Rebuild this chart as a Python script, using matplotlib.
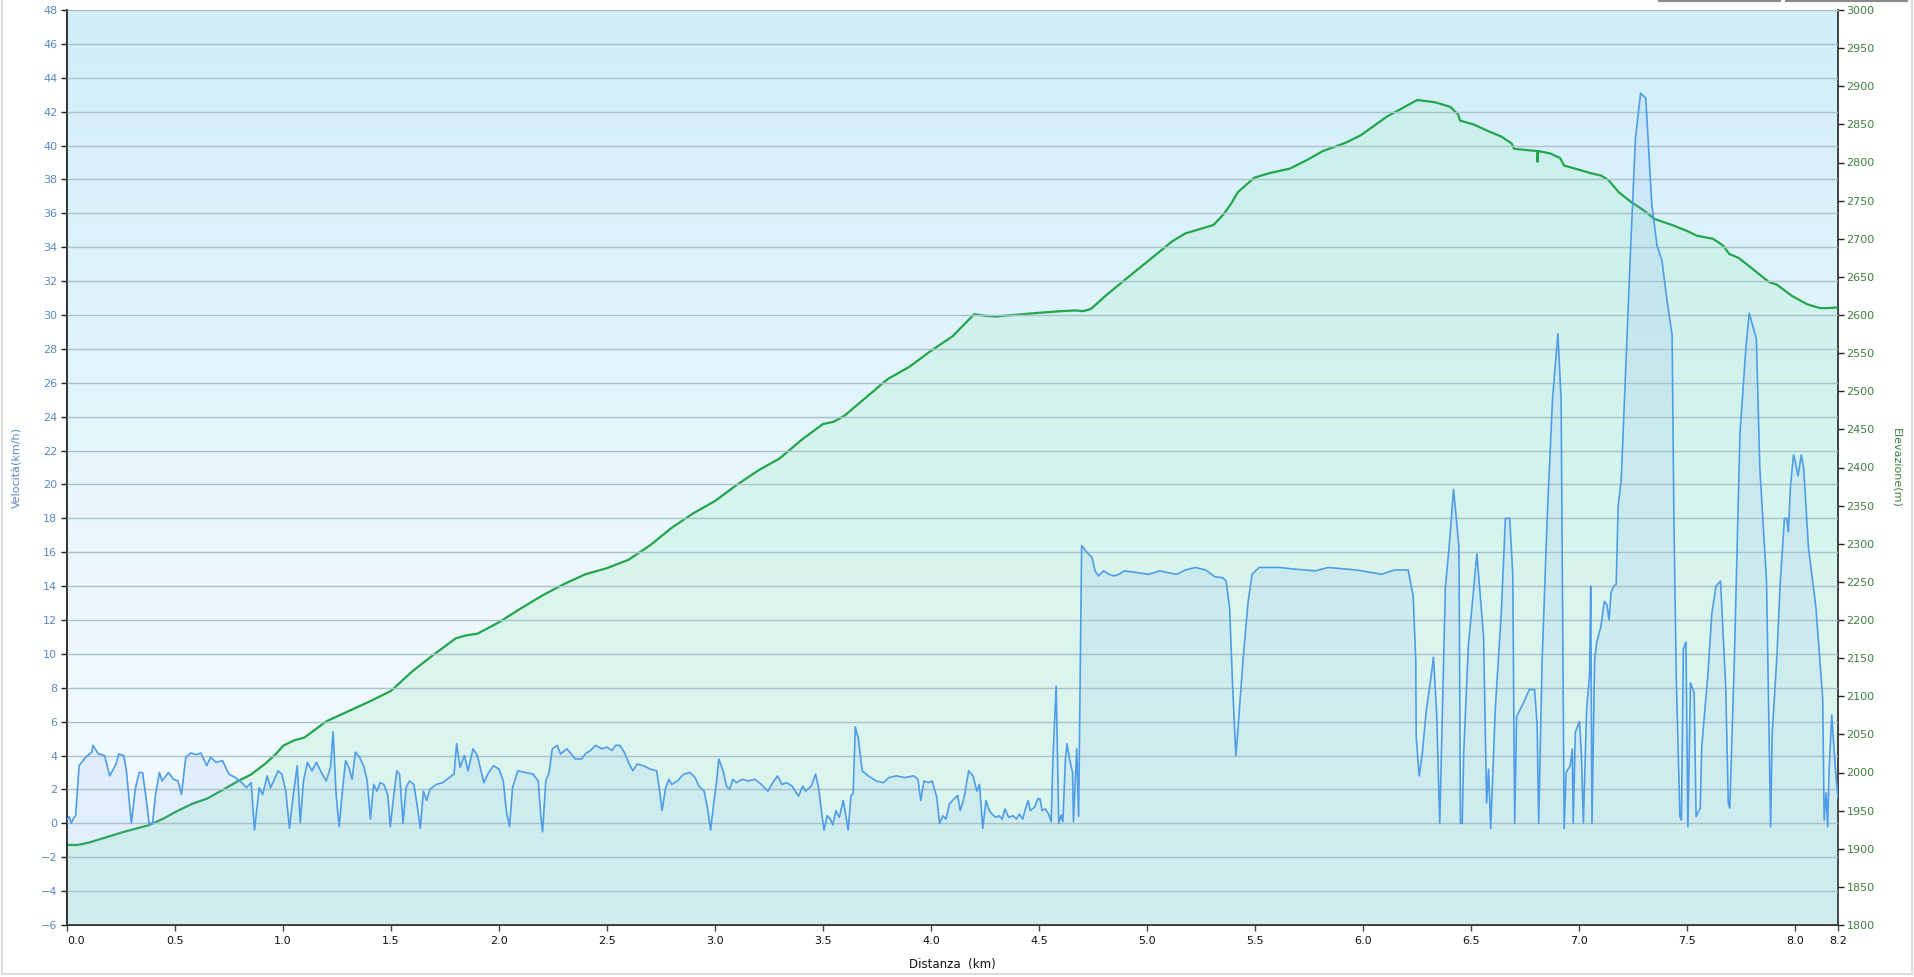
import numpy as np
import matplotlib
matplotlib.use("Agg")
import matplotlib.pyplot as plt
from matplotlib.colors import LinearSegmentedColormap
from matplotlib.lines import Line2D

# distanza (km) e velocita' (km/h)
speed_km = [0.0, 0.01, 0.02, 0.03, 0.04, 0.056, 0.086, 0.115, 0.12, 0.145, 0.174, 0.198, 0.227, 0.24, 0.263, 0.275,
            0.298, 0.316, 0.334, 0.35, 0.366, 0.38, 0.396, 0.41, 0.428, 0.44, 0.47, 0.493, 0.514, 0.53, 0.55, 0.573,
            0.6, 0.62, 0.647, 0.665, 0.69, 0.72, 0.75, 0.78, 0.81, 0.83, 0.853, 0.868, 0.89, 0.906, 0.927, 0.942,
            0.957, 0.977, 0.995, 1.013, 1.03, 1.048, 1.066, 1.08, 1.095, 1.113, 1.134, 1.155, 1.178, 1.2, 1.22,
            1.232, 1.246, 1.26, 1.275, 1.29, 1.305, 1.32, 1.335, 1.355, 1.376, 1.39, 1.405, 1.42, 1.435, 1.45,
            1.467, 1.485, 1.497, 1.51, 1.527, 1.54, 1.556, 1.57, 1.585, 1.606, 1.62, 1.636, 1.65, 1.665, 1.68, 1.71,
            1.74, 1.77, 1.792, 1.804, 1.82, 1.84, 1.857, 1.88, 1.9, 1.93, 1.952, 1.975, 2.0, 2.02, 2.034, 2.049,
            2.063, 2.087, 2.123, 2.158, 2.182, 2.193, 2.202, 2.217, 2.232, 2.247, 2.27, 2.285, 2.315, 2.353, 2.383,
            2.4, 2.424, 2.447, 2.477, 2.5, 2.524, 2.54, 2.56, 2.58, 2.6, 2.62, 2.64, 2.67, 2.7, 2.73, 2.744, 2.755,
            2.772, 2.787, 2.8, 2.826, 2.855, 2.885, 2.908, 2.926, 2.95, 2.965, 2.98, 2.994, 3.008, 3.018, 3.04,
            3.053, 3.068, 3.083, 3.1, 3.126, 3.155, 3.185, 3.215, 3.245, 3.268, 3.29, 3.31, 3.333, 3.357, 3.387,
            3.407, 3.42, 3.446, 3.466, 3.48, 3.496, 3.505, 3.52, 3.535, 3.546, 3.56, 3.576, 3.594, 3.605, 3.617,
            3.63, 3.64, 3.65, 3.664, 3.682, 3.71, 3.747, 3.78, 3.805, 3.84, 3.88, 3.92, 3.94, 3.953, 3.968, 3.99,
            4.006, 4.027, 4.04, 4.056, 4.07, 4.086, 4.1, 4.124, 4.136, 4.154, 4.175, 4.195, 4.213, 4.225, 4.24,
            4.255, 4.27, 4.283, 4.3, 4.315, 4.33, 4.343, 4.36, 4.38, 4.396, 4.41, 4.425, 4.44, 4.45, 4.46, 4.48,
            4.495, 4.505, 4.515, 4.53, 4.545, 4.557, 4.565, 4.58, 4.592, 4.604, 4.611, 4.623, 4.63, 4.642, 4.656,
            4.66, 4.675, 4.684, 4.698, 4.722, 4.746, 4.76, 4.776, 4.8, 4.824, 4.847, 4.871, 4.895, 4.953, 5.006,
            5.036, 5.06, 5.095, 5.138, 5.178, 5.225, 5.272, 5.315, 5.35, 5.367, 5.383, 5.397, 5.412, 5.42, 5.445,
            5.468, 5.487, 5.52, 5.615, 5.685, 5.78, 5.84, 5.97, 6.087, 6.146, 6.21, 6.233, 6.245, 6.247, 6.261,
            6.275, 6.294, 6.313, 6.327, 6.342, 6.356, 6.382, 6.4, 6.42, 6.445, 6.452, 6.46, 6.467, 6.488, 6.528,
            6.559, 6.573, 6.582, 6.592, 6.613, 6.641, 6.66, 6.68, 6.694, 6.703, 6.712, 6.743, 6.771, 6.795, 6.807,
            6.814, 6.83, 6.854, 6.878, 6.903, 6.918, 6.932, 6.941, 6.96, 6.97, 6.974, 6.984, 7.003, 7.012, 7.021,
            7.036, 7.05, 7.055, 7.061, 7.073, 7.083, 7.102, 7.118, 7.13, 7.14, 7.149, 7.161, 7.173, 7.182, 7.196,
            7.215, 7.239, 7.262, 7.286, 7.31, 7.338, 7.362, 7.385, 7.409, 7.432, 7.44, 7.451, 7.468, 7.475, 7.484,
            7.496, 7.505, 7.517, 7.534, 7.543, 7.562, 7.569, 7.597, 7.616, 7.635, 7.656, 7.68, 7.692, 7.699, 7.72,
            7.746, 7.775, 7.789, 7.822, 7.838, 7.869, 7.888, 7.895, 7.916, 7.933, 7.952, 7.963, 7.97, 7.98, 7.994,
            8.003, 8.015, 8.03, 8.041, 8.063, 8.098, 8.129, 8.136, 8.145, 8.152, 8.159, 8.171, 8.188, 8.2]
speed = [0.2, 0.4, 0.0, 0.3, 0.45, 3.4, 3.9, 4.2, 4.6, 4.1, 4.0, 2.8, 3.5, 4.1, 4.0, 3.1,
         0.0, 2.0, 3.0, 3.0, 1.5, 0.0, 0.0, 1.7, 3.0, 2.5, 3.0, 2.6, 2.5, 1.7, 3.9, 4.15,
         4.05, 4.15, 3.4, 3.9, 3.6, 3.7, 2.9, 2.7, 2.4, 2.1, 2.4, -0.4, 2.1, 1.7, 2.8, 2.1,
         2.5, 3.1, 2.9, 1.9, -0.3, 1.7, 3.4, 0.05, 2.5, 3.6, 3.1, 3.6, 3.0, 2.5, 3.3,
         5.4, 1.7, -0.2, 1.9, 3.7, 3.3, 2.6, 4.2, 3.9, 3.3, 2.5, 0.25, 2.3, 1.9, 2.4,
         2.3, 1.7, -0.2, 1.3, 3.1, 2.9, 0.0, 2.1, 2.5, 2.3, 1.15, -0.3, 1.9, 1.35, 2.0, 2.3,
         2.4, 2.7, 2.9, 4.7, 3.3, 4.0, 3.1, 4.4, 4.0, 2.4, 3.0, 3.4, 3.2, 2.5, 0.75, -0.2,
         2.1, 3.1, 3.0, 2.9, 2.5, 0.55, -0.5, 2.5, 3.0, 4.4, 4.6, 4.1, 4.4, 3.8, 3.8,
         4.1, 4.3, 4.6, 4.4, 4.5, 4.3, 4.6, 4.6, 4.2, 3.6, 3.1, 3.5, 3.4, 3.2, 3.1, 1.9, 0.75,
         2.1, 2.6, 2.3, 2.5, 2.9, 3.0, 2.7, 2.2, 1.9, 0.95, -0.4, 1.15, 2.5, 3.8, 3.0,
         2.2, 2.0, 2.6, 2.4, 2.6, 2.5, 2.6, 2.3, 1.9, 2.4, 2.8, 2.3, 2.4, 2.2, 1.6,
         2.2, 1.9, 2.2, 2.9, 2.1, 0.45, -0.4, 0.45, 0.25, -0.1, 0.75, 0.35, 1.35, 0.55, -0.4,
         1.65, 1.75, 5.7, 5.0, 3.1, 2.8, 2.5, 2.4, 2.7, 2.8, 2.7, 2.8, 2.6, 1.35, 2.5, 2.4,
         2.5, 1.55, 0.0, 0.45, 0.25, 1.15, 1.35, 1.65, 0.75, 1.55, 3.1, 2.8, 1.9, 2.3, -0.3,
         1.35, 0.75, 0.55, 0.35, 0.45, 0.25, 0.85, 0.35, 0.45, 0.25, 0.55, 0.25, 0.95, 1.35, 0.75, 0.95,
         1.45, 1.45, 0.75, 0.85, 0.55, 0.1, 3.8, 8.1, 0.0, 0.5, 0.1, 3.8, 4.7, 3.8, 3.0,
         0.1, 4.4, 0.4, 16.4, 16.0, 15.7, 14.9, 14.6, 14.9, 14.7, 14.6, 14.7, 14.9, 14.8, 14.7,
         14.8, 14.9, 14.8, 14.7, 14.95, 15.1, 14.95, 14.55, 14.5, 14.3, 12.7, 8.1, 4.0, 5.25, 9.6,
         13.0, 14.7, 15.1, 15.1, 15.0, 14.9, 15.1, 14.95, 14.7, 14.95, 14.95, 13.4, 9.6, 5.1, 2.8,
         4.1, 6.7, 8.4, 9.8, 6.4, 0.0, 13.9, 16.4, 19.7, 16.3, 0.0, 0.0, 4.1, 10.4, 15.9,
         11.0, 1.2, 3.2, -0.3, 6.7, 12.4, 18.0, 18.0, 14.7, 0.0, 6.3, 7.1, 7.9, 7.9, 5.8,
         0.0, 9.6, 18.2, 25.0, 28.9, 25.0, -0.3, 3.0, 3.4, 4.4, 0.0, 5.4, 6.0, 4.1, 0.0,
         6.7, 8.8, 14.0, 0.0, 9.6, 10.7, 11.6, 13.1, 12.9, 12.0, 13.6, 14.0, 14.1, 18.7, 20.2,
         26.1, 33.7, 40.4, 43.1, 42.8, 36.5, 34.1, 33.2, 30.8, 28.8, 18.2, 8.7, 0.4, 0.2, 10.3,
         10.7, -0.2, 8.3, 7.7, 0.4, 0.9, 4.5, 8.7, 12.4, 14.0, 14.3, 8.1, 1.2, 0.9, 9.6,
         23.0, 28.3, 30.1, 28.6, 21.0, 14.3, -0.2, 5.25, 9.6, 14.3, 18.0, 18.0, 17.2, 19.9, 21.75,
         21.3, 20.5, 21.75, 21.0, 16.3, 12.7, 7.4, 0.2, 1.8, -0.2, 3.2, 6.4, 3.2, 1.5]

# distanza (km) ed elevazione (m)
elev_km = [0.0, 0.05, 0.1, 0.17, 0.25, 0.3, 0.38, 0.45, 0.5, 0.58, 0.65, 0.72, 0.8, 0.85, 0.92, 0.97, 1.0,
           1.05, 1.1, 1.2, 1.3, 1.4, 1.5, 1.6, 1.7, 1.8, 1.85, 1.9, 2.0, 2.1, 2.2, 2.3, 2.4, 2.5, 2.6, 2.7,
           2.8, 2.9, 3.0, 3.1, 3.2, 3.3, 3.4, 3.5, 3.55, 3.6, 3.7, 3.8, 3.9, 4.0, 4.1, 4.2, 4.25, 4.3, 4.505,
           4.6, 4.67, 4.705, 4.741, 4.812, 4.906, 5.024, 5.119, 5.178, 5.308, 5.355, 5.39, 5.421, 5.497,
           5.567, 5.662, 5.733, 5.815, 5.921, 5.992, 6.11, 6.181, 6.252, 6.334, 6.405, 6.441, 6.45, 6.512,
           6.582, 6.641, 6.689, 6.7, 6.807, 6.809, 6.812, 6.866, 6.913, 6.932, 7.007, 7.055, 7.102, 7.137,
           7.185, 7.243, 7.302, 7.35, 7.432, 7.503, 7.546, 7.621, 7.668, 7.697, 7.739, 7.798, 7.881, 7.916,
           7.987, 8.058, 8.117, 8.152, 8.2]
elev = [1905, 1905, 1908, 1914, 1921, 1925, 1931, 1940, 1948, 1959, 1966, 1977, 1990, 1997, 2012, 2025, 2035,
        2042, 2046, 2067, 2080, 2093, 2107, 2133, 2155, 2176, 2180, 2182, 2197, 2215, 2232, 2247, 2260, 2268, 2279, 2298,
        2321, 2340, 2356, 2377, 2396, 2412, 2436, 2457, 2460, 2468, 2492, 2516, 2532, 2553, 2572, 2601, 2599, 2598, 2603,
        2605, 2606, 2605, 2608, 2626, 2648, 2675, 2697, 2707, 2718, 2732, 2746, 2761, 2780,
        2786, 2792, 2802, 2815, 2826, 2836, 2860, 2871, 2882, 2879, 2873, 2863, 2855, 2850,
        2841, 2834, 2825, 2818, 2815, 2801, 2815, 2812, 2806, 2796, 2790, 2786, 2783, 2777,
        2761, 2748, 2737, 2726, 2718, 2710, 2704, 2700, 2691, 2680, 2675, 2662, 2643, 2640,
        2625, 2614, 2609, 2609, 2610]

x_ticks = [0.0, 0.5, 1.0, 1.5, 2.0, 2.5, 3.0, 3.5, 4.0, 4.5, 5.0, 5.5, 6.0, 6.5, 7.0, 7.5, 8.0, 8.2]

speed_col = "#4f9de8"
elev_col = "#22a64a"
spd_lab = "#5b87c2"
ele_lab = "#3f7f3f"

fig = plt.figure(figsize=(19.15, 9.77), dpi=100)
ax1 = fig.add_axes([67 / 1915, 52 / 977, 1771 / 1915, 915 / 977])
ax2 = ax1.twinx()
ax1.set_zorder(2)
ax1.patch.set_visible(False)
ax2.set_zorder(1)

# sfondo sfumato
bg = LinearSegmentedColormap.from_list("bg", [(0, "#f2fbfd"), (0.3, "#eff9fd"), (1, "#d1eefa")])
grad = np.linspace(0, 1, 256).reshape(-1, 1)
ax2.imshow(grad, extent=[0, 8.2, 1800, 3000], origin="lower", aspect="auto", cmap=bg, zorder=0)

# elevazione
ax2.fill_between(elev_km, elev, 1800, color="#b8f0d4", alpha=0.36, lw=0, zorder=1)
ax2.plot(elev_km, elev, color=elev_col, lw=1.6, zorder=3)

# velocita'
ax1.fill_between(speed_km, speed, -6, color="#7aa8f5", alpha=0.13, lw=0, zorder=1)
ax1.plot(speed_km, speed, color=speed_col, lw=1.2, zorder=3)

ax1.set_xlim(0, 8.2)
ax1.set_ylim(-6, 48)
ax2.set_ylim(1800, 3000)
ax1.set_yticks(np.arange(-6, 49, 2))
ax2.set_yticks(np.arange(1800, 3001, 50))
ax1.set_xticks(x_ticks)
ax1.set_xticklabels([f"{t:.1f}" for t in x_ticks])
ax1.get_xticklabels()[0].set_ha("left")

ax1.yaxis.grid(True, color="#a9c1ca", lw=1)
ax1.set_axisbelow(False)

ax1.tick_params(axis="y", labelsize=8, labelcolor=spd_lab, color="#222222", length=4, width=1, pad=3)
ax2.tick_params(axis="y", labelsize=8, labelcolor=ele_lab, color="#222222", length=4, width=1, pad=2)
ax1.tick_params(axis="x", labelsize=8, labelcolor="#111111", color="#444444", length=4, width=1, pad=4)

for s in ["left", "bottom"]:
    ax1.spines[s].set_color("#222222")
    ax1.spines[s].set_linewidth(1.3)
ax1.spines["top"].set_color("#c4c4c4")
ax1.spines["right"].set_visible(False)
ax2.spines["right"].set_color("#333333")
ax2.spines["right"].set_linewidth(1.3)
for s in ["left", "top", "bottom"]:
    ax2.spines[s].set_visible(False)

ax1.set_ylabel("Velocità(km/h)", color=spd_lab, fontsize=8)
ax1.yaxis.set_label_coords(-0.0254, 0.5)
ax2.set_ylabel("Elevazione(m)", color=ele_lab, fontsize=8, rotation=270, va="center")
ax2.yaxis.set_label_coords(1.0327, 0.5)
ax1.set_xlabel("Distanza  (km)", fontsize=8.5, color="#111111")
ax1.xaxis.set_label_coords(0.5, -0.036)

# cornice esterna e pulsanti in alto a destra
W, H = 1915, 977
frame = [((2, 2), (0, 974)), ((1912, 1912), (0, 974)), ((2, 1912), (974, 974))]
for xs, ys in frame:
    fig.add_artist(Line2D([x / W for x in xs], [1 - y / H for y in ys], color="#dcdcdc", lw=1.5))
for x0, x1 in [(1659, 1780), (1786, 1907)]:
    fig.add_artist(Line2D([x0 / W, x1 / W], [1 - 0.8 / H, 1 - 0.8 / H], color="#8a8a8a", lw=1.5))

fig.savefig("out.png", dpi=100)
